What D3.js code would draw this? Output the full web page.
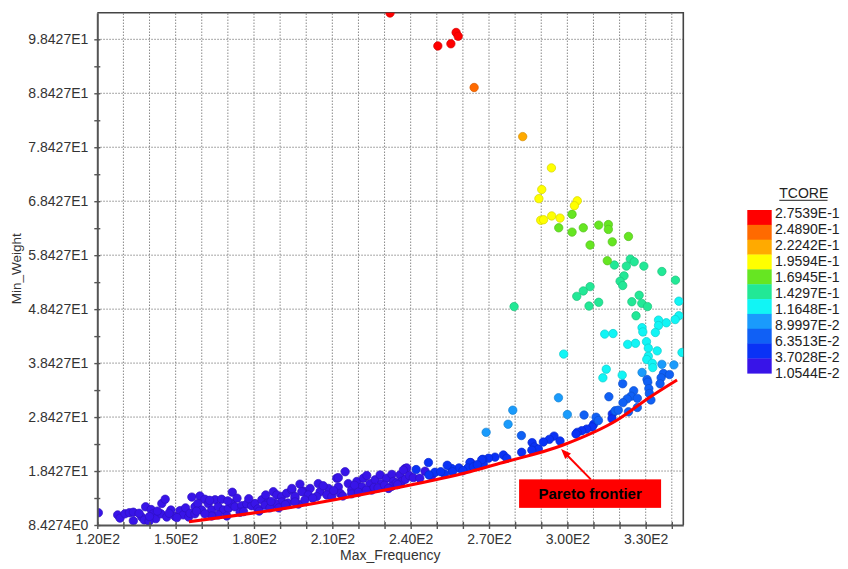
<!DOCTYPE html>
<html lang="en">
<head>
<meta charset="UTF-8">
<title>Max_Frequency vs Min_Weight (TCORE)</title>
<script src="https://d3js.org/d3.v7.min.js"></script>
<style>
  body { margin: 0; background: #fff; font-family: "Liberation Sans", Arial, sans-serif; }
  svg { display: block; }
</style>
</head>
<body>
<svg width="848" height="569"></svg>
<script>
// TCORE levels shown in the legend (high -> low) and their colours
const tcoreLevels = [0.27539, 0.24890, 0.22242, 0.19594, 0.16945, 0.14297, 0.11648, 0.089997, 0.063513, 0.037028, 0.010544];
const levelColors = ["#ff0000", "#ff6a00", "#ffaa00", "#ffff00", "#66e622", "#22e896", "#11f5f5", "#1a9bfc", "#1060f5", "#0a32f5", "#3814e8"];

// designs: [Max_Frequency, Min_Weight], grouped by TCORE level
const ptsT275 = [[232.1,103.3],[250.4,97.2],[255.4,97.6],[257.4,99.7],[258.2,99.0]];
const ptsT249 = [[264.3,89.5]];
const ptsT222 = [[282.9,80.4]];
const ptsT196 = [[293.9,74.6],[290.2,70.6],[289.1,68.9],[303.8,68.5],[302.7,67.6],[289.8,64.9],[290.9,65.0],[294.0,65.7],[297.2,65.3]];
const ptsT169 = [[301.8,66.0],[296.7,63.5],[301.8,62.7],[306.1,63.5],[312.0,64.0],[315.7,64.1],[315.7,63.2],[323.4,61.9],[317.2,60.9],[308.7,60.3],[315.3,57.4]];
const ptsT143 = [[324.1,57.7],[325.6,57.2],[318.0,56.6],[322.6,56.4],[329.3,56.4],[336.2,55.4],[341.4,53.8],[321.7,54.6],[320.2,53.6],[321.2,52.8],
  [308.7,52.6],[306.1,51.8],[303.6,50.8],[312.0,49.7],[308.3,49.0],[327.5,51.0],[324.7,49.8],[328.5,49.5],[330.7,48.9],[279.6,48.9],[326.3,47.2]];
const ptsT116 = [[342.7,49.9],[342.7,47.2],[341.3,46.5],[337.9,45.9],[334.9,46.4],[334.9,45.4],[328.6,45.0],[328.9,44.2],[333.7,44.1],[314.3,43.8],
  [317.5,43.9],[323.1,41.9],[326.1,42.1],[330.3,42.4],[331.0,41.2],[334.4,40.7],[331.0,39.7],[330.4,39.1],[332.5,38.4],[332.7,37.6],
  [298.6,40.1],[343.9,40.4],[314.9,37.3],[313.6,35.7],[321.0,36.2]];
const ptsT090 = [[336.2,38.2],[340.8,38.1],[279.1,29.7],[277.3,27.1],[268.9,25.6],[296.6,32.0],[300.0,28.9],[328.6,36.7]];
const ptsT064 = [[336.8,36.5],[339.1,36.3],[335.9,35.7],[330.5,35.4],[330.8,34.9],[321.2,34.6],[335.5,34.6],[331.2,33.7],[331.4,32.8],[325.4,33.3],
  [324.4,32.3],[322.9,31.8],[321.3,31.1],[326.8,31.9],[332.0,31.6],[315.9,32.2],[306.4,28.8],[282.4,25.0],[311.0,28.4],[311.9,27.8],
  [318.3,29.6],[319.5,29.7],[326.8,30.2],[323.4,29.4]];
const ptsT037 = [[317.2,29.0],[317.1,28.1],[310.1,27.1],[309.5,26.6],[307.4,26.2],[305.5,25.9],[303.8,25.6],[303.3,25.3],[294.9,24.9],[297.2,24.0],
  [293.1,24.3],[290.8,23.8],[286.5,23.7],[287.4,22.9],[288.9,22.5],[286.4,22.3],[282.5,21.9],[275.5,21.4],[276.8,20.8],[272.3,21.0],
  [269.8,20.8],[267.6,20.6],[267.8,19.7],[267.2,20.5],[262.7,20.0],[261.9,19.0],[258.5,19.0],[255.7,18.9],[254.0,19.5],[249.3,18.2],
  [247.0,17.7],[246.8,20.0],[242.1,18.7],[260.0,18.5],[264.0,19.2],[265.5,19.6],[256.0,18.3],[253.0,17.9],[251.5,18.3]];
const ptsT011 = [[120.4,10.7],[127.8,10.3],[128.7,9.7],[130.6,10.5],[132.3,10.7],[133.8,10.8],[133.8,9.2],[137.0,9.9],[138.0,9.35],[138.5,11.8],
  [140.6,11.3],[141.4,10.5],[142.4,9.6],[139.8,9.1],[144.7,12.4],[146.0,13.2],[144.4,10.5],[146.6,9.9],[148.2,11.2],[149.8,10.0],
  [151.7,11.1],[152.9,10.3],[136.0,10.6],[140.0,10.0],[143.0,11.0],[147.5,10.6],[150.5,9.8],[153.8,11.6],[155.0,9.9],
  [156.2,13.6],[159.3,13.8],[161.2,13.2],[157.4,11.8],[158.5,12.4],[155.5,10.6],[157.4,10.5],[160.0,11.2],[162.5,12.4],[163.8,11.2],
  [165.1,13.1],[167.6,13.2],[166.3,11.8],[168.3,11.2],[170.2,11.5],[171.5,12.4],[171.7,14.5],[172.7,11.8],[175.3,12.0],[177.2,12.3],
  [179.1,12.0],[180.4,12.4],[183.0,13.1],[185.5,12.7],[187.4,14.6],[188.7,14.0],[190.6,13.7],[192.5,14.3],[194.5,14.9],[190.6,12.7],
  [188.1,12.4],[184.2,12.1],[169.6,10.1],[166.3,10.3],[163.8,10.1],[161.2,10.5],[174.7,10.8],[181.5,11.4],[186.1,11.6],[193.0,12.5],
  [195.7,13.4],[158.0,11.0],[163.0,13.0],[170.0,12.9],[173.5,13.4],[176.0,10.9],[178.0,13.3],[182.0,11.0],[184.5,14.0],[186.5,12.8],
  [189.5,11.6],[192.0,12.2],[197.0,12.3],[199.0,14.7],
  [194.5,15.2],[197.6,16.0],[198.3,14.6],[195.7,13.7],[201.5,15.2],[200.8,14.0],[204.6,16.1],[205.3,14.6],[204.0,13.7],[208.5,15.2],
  [207.9,14.0],[211.7,17.1],[214.9,18.3],[212.3,15.5],[213.0,14.3],[216.1,16.1],[217.4,14.9],[219.4,16.5],[221.9,17.1],[221.3,15.5],
  [223.2,17.6],[224.4,16.1],[226.4,16.8],[228.3,17.7],[228.9,16.1],[230.8,17.1],[232.8,17.8],[233.4,16.5],[235.9,17.7],[236.6,16.5],
  [237.9,18.9],[238.5,19.0],[237.2,18.6],[199.5,13.05],[209.8,13.7],[217.4,14.2],[225.1,14.9],[232.8,15.6],[195.7,12.7],
  [202.5,13.4],[206.5,15.7],[210.5,14.8],[214.0,13.8],[218.5,15.8],[220.0,14.5],[223.0,14.9],[226.0,15.4],[227.5,15.3],[230.0,15.8],
  [231.5,15.2],[234.5,16.2],[235.0,15.9],[238.0,16.9],[239.5,17.6],[241.0,17.2],[243.5,17.1],[245.5,18.4],[248.0,17.5],[212.3,17.2],
  [263.0,20.0]];

const groups = [
  {tcore: tcoreLevels[10], pts: ptsT011},
  {tcore: tcoreLevels[9], pts: ptsT037},
  {tcore: tcoreLevels[8], pts: ptsT064},
  {tcore: tcoreLevels[7], pts: ptsT090},
  {tcore: tcoreLevels[6], pts: ptsT116},
  {tcore: tcoreLevels[5], pts: ptsT143},
  {tcore: tcoreLevels[4], pts: ptsT169},
  {tcore: tcoreLevels[3], pts: ptsT196},
  {tcore: tcoreLevels[2], pts: ptsT222},
  {tcore: tcoreLevels[1], pts: ptsT249},
  {tcore: tcoreLevels[0], pts: ptsT275}
];

// hand-drawn Pareto frontier
const frontier = [[155.1,9.04],[195.7,11.82],[230.2,14.91],[262.7,18.30],[274.2,19.86],[298.4,23.25],[319.1,27.88],[331.7,32.14],[342.0,35.29]];
const arrowTip = [297.6, 22.5];

const yMin = 8.4274;
const xTicks = d3.range(120, 341, 10);
const yMajor = d3.range(0, 10).map(i => yMin + 10 * i);
const yMinor = d3.range(0, 9).map(i => yMin + 5 + 10 * i);

const svg = d3.select("svg");
const x = d3.scaleLinear().domain([120, 344.4]).range([97.3, 683.3]);
const y = d3.scaleLinear().domain([yMin, 103.36]).range([525, 12.7]);
const color = d3.scaleOrdinal().domain(tcoreLevels).range(levelColors);

const [x0, x1] = x.range();
const [y0, y1] = y.range();

svg.append("defs").append("clipPath").attr("id", "plot")
  .append("rect").attr("x", x0).attr("y", y1).attr("width", x1 - x0).attr("height", y0 - y1);

// grid
const grid = svg.append("g").attr("stroke", "#8a8a8a").attr("stroke-width", 1).attr("stroke-dasharray", "1.5,1.5");
grid.selectAll(".vx").data(xTicks.slice(1)).join("line")
  .attr("x1", d => x(d)).attr("x2", d => x(d)).attr("y1", y0).attr("y2", y1);
grid.selectAll(".hy").data(yMajor.slice(1)).join("line")
  .attr("y1", d => y(d)).attr("y2", d => y(d)).attr("x1", x0).attr("x2", x1);

// top and right border
svg.append("path")
  .attr("d", `M${x0},${y1}H${x1}V${y0}`)
  .attr("fill", "none").attr("stroke", "#444").attr("stroke-width", 1.6);

// points
const points = groups.flatMap(g => g.pts.map(([f, w]) => ({f, w, t: g.tcore})));
svg.append("g").attr("clip-path", "url(#plot)")
  .selectAll("circle").data(points).join("circle")
  .attr("cx", d => x(d.f)).attr("cy", d => y(d.w)).attr("r", 4.2)
  .attr("fill", d => color(d.t))
  .attr("stroke", d => d3.color(color(d.t)).darker(0.5))
  .attr("stroke-width", 0.7);

// Pareto frontier curve
svg.append("path")
  .datum(frontier)
  .attr("d", d3.line().x(d => x(d[0])).y(d => y(d[1])).curve(d3.curveMonotoneX))
  .attr("fill", "none").attr("stroke", "#ff0000").attr("stroke-width", 3);

// axes
const fmtX = d => d.toExponential(2).replace("e+", "E");
const fmtY = d => d.toExponential(4).replace("e+", "E");

const xAxis = svg.append("g").attr("transform", `translate(0,${y0})`)
  .call(d3.axisBottom(x).tickValues(xTicks).tickSizeInner(4).tickSizeOuter(0).tickPadding(5)
    .tickFormat(d => (d - 120) % 30 === 0 ? fmtX(d) : ""));
const yAxis = svg.append("g").attr("transform", `translate(${x0},0)`)
  .call(d3.axisLeft(y).tickValues(yMajor.concat(yMinor)).tickSizeInner(3).tickSizeOuter(0).tickPadding(6)
    .tickFormat(d => yMajor.includes(d) ? fmtY(d) : ""));

xAxis.selectAll(".tick").append("line").attr("y2", -3).attr("stroke", "#555");
yAxis.selectAll(".tick").append("line").attr("x2", 3).attr("stroke", "#555");

[xAxis, yAxis].forEach(a => {
  a.select(".domain").attr("stroke", "#555").attr("stroke-width", 2);
  a.selectAll(".tick line").attr("stroke", "#555").attr("stroke-width", 1.4);
  a.selectAll("text").attr("fill", "#333")
    .style("font-family", "'Liberation Sans', Arial, sans-serif").style("font-size", "14px");
});

svg.append("text")
  .attr("x", (x0 + x1) / 2).attr("y", 560).attr("text-anchor", "middle")
  .attr("fill", "#333").style("font-size", "14px")
  .text("Max_Frequency");
svg.append("text")
  .attr("transform", `translate(21,${(y0 + y1) / 2}) rotate(-90)`).attr("text-anchor", "middle")
  .attr("fill", "#333").style("font-size", "13.5px")
  .text("Min_Weight");

// annotation
const tx = x(arrowTip[0]), ty = y(arrowTip[1]);
const bx = tx + 29, by = ty + 44.5;
const sx = bx + 0.7, sy = by - 14.2;
const ang = Math.atan2(ty - sy, tx - sx);
const ah = 10, aw = 4;
svg.append("line")
  .attr("x1", sx).attr("y1", sy)
  .attr("x2", tx - Math.cos(ang) * ah * 0.8).attr("y2", ty - Math.sin(ang) * ah * 0.8)
  .attr("stroke", "#ff0000").attr("stroke-width", 2);
svg.append("path")
  .attr("d", `M${tx},${ty}` +
    `L${tx - Math.cos(ang) * ah - Math.sin(ang) * aw},${ty - Math.sin(ang) * ah + Math.cos(ang) * aw}` +
    `L${tx - Math.cos(ang) * ah + Math.sin(ang) * aw},${ty - Math.sin(ang) * ah - Math.cos(ang) * aw}Z`)
  .attr("fill", "#ff0000");
svg.append("rect")
  .attr("x", bx - 71).attr("y", by - 14.2).attr("width", 142).attr("height", 28.5)
  .attr("fill", "#ff0000");
svg.append("text")
  .attr("x", bx).attr("y", by + 5.3).attr("text-anchor", "middle")
  .attr("fill", "#000").style("font-size", "15px").style("font-weight", "bold")
  .text("Pareto frontier");

// legend
const legend = svg.append("g");
const boxY = d3.scaleBand().domain(d3.range(tcoreLevels.length)).range([210, 373.3]);
const labY = d3.scalePoint().domain(d3.range(tcoreLevels.length)).range([212.8, 373]);
legend.append("text")
  .attr("x", 779.3).attr("y", 198.3).attr("fill", "#222").style("font-size", "14px")
  .text("TCORE");
legend.append("line")
  .attr("x1", 779.3).attr("x2", 827.5).attr("y1", 200.3).attr("y2", 200.3)
  .attr("stroke", "#222").attr("stroke-width", 1);
legend.selectAll("rect").data(tcoreLevels).join("rect")
  .attr("x", 747.3).attr("width", 24.4)
  .attr("y", (d, i) => boxY(i)).attr("height", boxY.bandwidth() + 0.3)
  .attr("fill", d => color(d));
legend.selectAll(".lab").data(tcoreLevels).join("text")
  .attr("x", 775).attr("y", (d, i) => labY(i)).attr("dy", "0.36em")
  .attr("fill", "#222").style("font-size", "14px")
  .text(d => d.toExponential(4).replace("e", "E"));
</script>
</body>
</html>
